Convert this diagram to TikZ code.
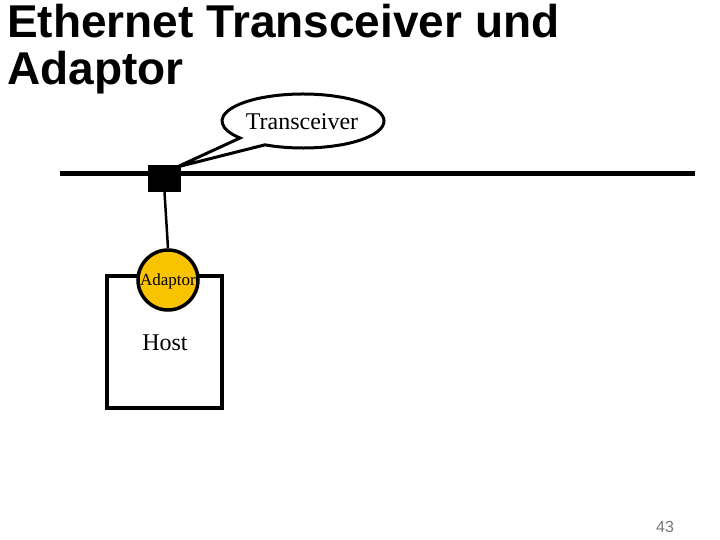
\documentclass[tikz,border=0pt]{standalone}
\usepackage{fontspec}
\setmainfont{Liberation Serif}
\newfontfamily\titlefont{Liberation Sans}
\definecolor{adaptorfill}{RGB}{250,195,0}
\definecolor{pagegray}{RGB}{120,120,120}
\begin{document}
\begin{tikzpicture}[x=1pt,y=1pt,
  titletext/.style={anchor=base west,inner sep=0pt,font=\titlefont\bfseries\fontsize{46}{47}\selectfont},
  serif/.style={inner sep=0pt,font=\fontsize{#1}{#1}\selectfont},
  busline/.style={line width=5pt},
  thin/.style={line width=2.5pt}]
\useasboundingbox[fill=white] (0,0) rectangle (720,-540);
% title
\node[titletext] (t1) at (7,-38) {Ethernet Transceiver und};
\node[titletext] (t2) at (7,-85) {Adaptor};
% bus
\coordinate (busl) at (60,-174);
\coordinate (busr) at (695,-174);
\draw[busline] (busl) -- (busr);
% transceiver square
\node[fill=black,minimum width=33pt,minimum height=27pt,inner sep=0pt] (sq) at (164.5,-178.5) {};
% host box
\node[draw,line width=3.5pt,minimum width=115pt,minimum height=132pt,inner sep=0pt] (host) at (164.5,-342) {};
\node[serif=24] (hosttxt) at (165,-343) {Host};
% adaptor circle
\node[circle,draw,line width=3.5pt,fill=adaptorfill,minimum size=60pt,inner sep=0pt] (ad) at (168,-280) {};
\draw[thin] (sq.south) -- (ad.north);
\node[serif=17] (adtxt) at (168,-281) {Adaptor};
% callout
\coordinate (cc) at (303,-121);
\coordinate (tip) at (177,-167);
\draw[line width=3pt,fill=white,line join=miter] (cc) ++(242:81 and 27) arc[start angle=242,end angle=579,x radius=81,y radius=27] -- (tip) -- cycle;
\node[serif=24] (trtxt) at (302,-122) {Transceiver};
% page number
\node[inner sep=0pt,text=pagegray,font=\titlefont\fontsize{16}{16}\selectfont] (pg) at (665,-527) {43};
\end{tikzpicture}
\end{document}
